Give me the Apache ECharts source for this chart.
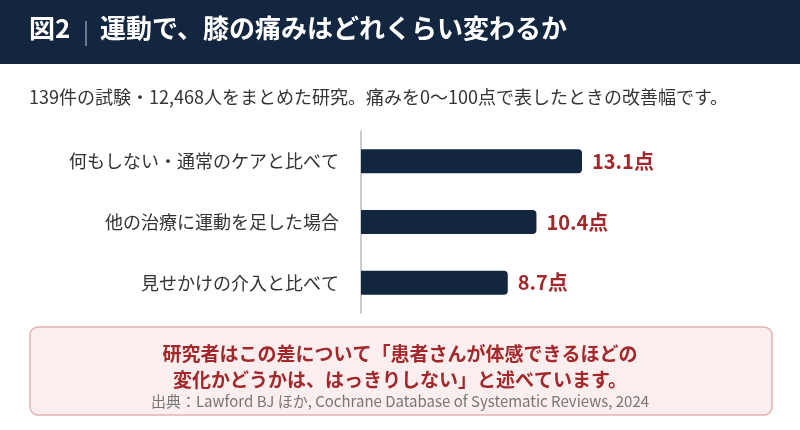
<!doctype html>
<html lang="ja">
<head>
<meta charset="UTF-8">
<title>図2</title>
<style>body{margin:0;background:#fff}</style>
</head>
<body>
<div id="main" style="width:800px;height:430px"></div>
<script src="https://cdn.jsdelivr.net/npm/echarts@6/dist/echarts.min.js"></script>
<script>
const categories = ['何もしない・通常のケアと比べて', '他の治療に運動を足した場合', '見せかけの介入と比べて']
const values = [13.1, 10.4, 8.7]
const font = '"Noto Sans CJK JP", "Noto Sans", sans-serif'
const navy = '#13263f'
const red = '#a3282b'

let myChart = echarts.init(document.querySelector('#main'))
myChart.setOption({
    textStyle: {fontFamily: font},
    grid: {left: 361, right: 218, top: 131, bottom: 117},
    xAxis: {type: 'value', min: 0, max: 13.1, show: false},
    yAxis: {
        type: 'category',
        data: categories,
        inverse: true,
        axisTick: {show: false},
        axisLine: {lineStyle: {color: '#bbbbbb', width: 1.5}},
        axisLabel: {color: '#333', fontSize: 18, margin: 22, fontFamily: font}
    },
    series: [{
        type: 'bar',
        data: values,
        barWidth: 24,
        itemStyle: {color: navy, borderRadius: [0, 4, 4, 0]},
        label: {
            show: true, position: 'right', distance: 10,
            formatter: p => p.value + '点',
            color: red, fontSize: 20, fontWeight: 'bold', fontFamily: font
        }
    }],
    graphic: [
        {type: 'rect', shape: {x: 0, y: 0, width: 800, height: 64}, style: {fill: navy}},
        {type: 'text', left: 29, top: 15, style: {text: '図2', fill: '#fff', font: 'bold 26px ' + font}},
        {type: 'line', shape: {x1: 86, y1: 21, x2: 86, y2: 46}, style: {stroke: '#c8ced8', lineWidth: 1}},
        {type: 'text', left: 100, top: 15, style: {text: '運動で、膝の痛みはどれくらい変わるか', fill: '#fff', font: 'bold 26px ' + font}},
        {type: 'text', left: 29, top: 88, style: {text: '139件の試験・12,468人をまとめた研究。痛みを0〜100点で表したときの改善幅です。', fill: '#333', font: '18px ' + font}},
        {type: 'rect', shape: {x: 30, y: 327, width: 742, height: 88, r: 8}, style: {fill: '#fbeeee', stroke: '#e3b3b3', lineWidth: 1.5}},
        {type: 'text', x: 400, y: 341, style: {text: '研究者はこの差について「患者さんが体感できるほどの\n変化かどうかは、はっきりしない」と述べています。', fill: red, font: 'bold 19px ' + font, align: 'center', lineHeight: 26}},
        {type: 'text', x: 400, y: 394, style: {text: '出典：Lawford BJ ほか, Cochrane Database of Systematic Reviews, 2024', fill: '#777', font: '15px ' + font, align: 'center'}}
    ]
})
</script>
</body>
</html>
